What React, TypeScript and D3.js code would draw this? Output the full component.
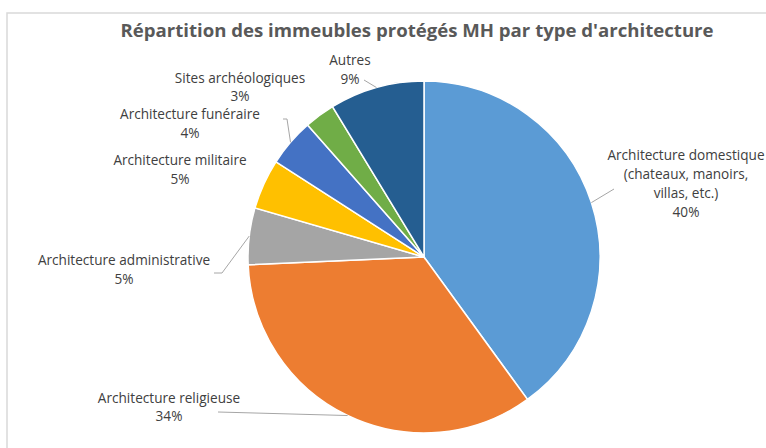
import React from 'react';
import * as d3 from 'd3';

// Data
const categories = [
  'Architecture domestique',
  'Architecture religieuse',
  'Architecture administrative',
  'Architecture militaire',
  'Architecture funéraire',
  'Sites archéologiques',
  'Autres',
];
const values = [40, 34.3, 5.2, 4.6, 4.4, 2.8, 8.7];
const labelLines = [
  ['Architecture domestique', '(chateaux, manoirs,', 'villas, etc.)', '40%'],
  ['Architecture religieuse', '34%'],
  ['Architecture administrative', '5%'],
  ['Architecture militaire', '5%'],
  ['Architecture funéraire', '4%'],
  ['Sites archéologiques', '3%'],
  ['Autres', '9%'],
];
const colors = ['#5B9BD5', '#ED7D31', '#A5A5A5', '#FFC000', '#4472C4', '#70AD47', '#255E91'];

// Layout: label centre x, first baseline y, line step, leader start points (or null)
const labelLayout: { x: number; y: number; step: number; lead: [number, number][] | null }[] = [
  { x: 686, y: 160, step: 19, lead: [[614, 189]] },
  { x: 169, y: 403, step: 18, lead: [[218, 412]] },
  { x: 124, y: 265, step: 19, lead: [[214, 273], [222, 273]] },
  { x: 180, y: 165, step: 19, lead: null },
  { x: 190, y: 119, step: 19, lead: [[283, 119], [287, 119]] },
  { x: 240, y: 83, step: 18, lead: null },
  { x: 350, y: 65, step: 19, lead: [[364, 80]] },
];

const width = 766;
const height = 448;
const cx = 424;
const cy = 257;
const radius = 176;

const App = () => {
  const pie = d3
    .pie<number>()
    .sort(null)
    .value((d) => d);
  const arcs = pie(values);
  const arc = d3.arc<d3.PieArcDatum<number>>().innerRadius(0).outerRadius(radius);
  const line = d3.line();

  return (
    <svg
      width={width}
      height={height}
      style={{ position: 'absolute', left: 0, top: 0, background: '#fff' }}
      fontFamily="'Open Sans', sans-serif"
    >
      <rect x={7} y={13} width={800} height={500} fill="#fff" stroke="#d9d9d9" strokeWidth={1.5} />
      <text x={417} y={37} textAnchor="middle" fontSize={18.6} fontWeight={700} fill="#595959">
        Répartition des immeubles protégés MH par type d'architecture
      </text>
      <g transform={`translate(${cx},${cy})`}>
        {arcs.map((a, i) => (
          <path key={categories[i]} d={arc(a) || ''} fill={colors[i]} stroke="#fff" strokeWidth={1.5} />
        ))}
      </g>
      {arcs.map((a, i) => {
        const lay = labelLayout[i];
        if (!lay.lead) return null;
        const mid = (a.startAngle + a.endAngle) / 2;
        const end: [number, number] = [cx + radius * Math.sin(mid), cy - radius * Math.cos(mid)];
        return (
          <path
            key={'lead' + i}
            d={line([...lay.lead, end]) || ''}
            fill="none"
            stroke="#a6a6a6"
            strokeWidth={1}
          />
        );
      })}
      {labelLines.map((lines, i) => (
        <text
          key={'lab' + i}
          x={labelLayout[i].x}
          y={labelLayout[i].y}
          textAnchor="middle"
          fontSize={13.6}
          fill="#404040"
        >
          {lines.map((t, j) => (
            <tspan key={j} x={labelLayout[i].x} dy={j === 0 ? 0 : labelLayout[i].step}>
              {t}
            </tspan>
          ))}
        </text>
      ))}
    </svg>
  );
};

export default App;
